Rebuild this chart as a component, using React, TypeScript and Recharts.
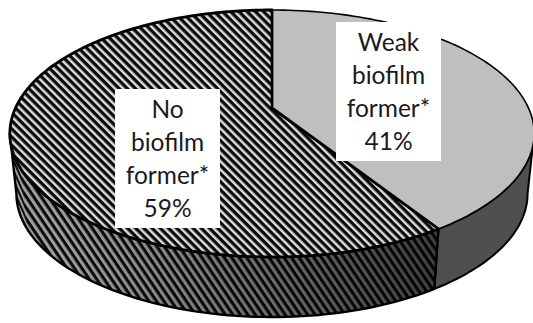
import React from "react";
import { PieChart, Pie } from "recharts";

const categories = ["Weak biofilm former*", "No biofilm former*"];
const shares = [41, 59];
const labelLines = [
  ["Weak", "biofilm", "former*", "41%"],
  ["No", "biofilm", "former*", "59%"],
];

const rows = categories.map((name, i) => ({ name, value: shares[i], lines: labelLines[i] }));

// Perspective of the disc: k foreshortens the far side, squash flattens the circle.
const K = 0.2065;
const SQUASH = 0.461;
const WALL_DROP = 60;
const WALL_TAPER = 0.975;
const SILHOUETTE = (Math.asin(K) * 180) / Math.PI;

// Hatching on the rim tightens and steepens at the far left end of the disc.
const rimBands = [
  { id: "rimA", upTo: -152, period: 4, tilt: -24 },
  { id: "rimB", upTo: -57, period: 6.2, tilt: -34 },
];

type Pt = [number, number];

const project = (deg: number, cx: number, cy: number, r: number): Pt => {
  const rad = (deg * Math.PI) / 180;
  const u = Math.cos(rad);
  const v = -Math.sin(rad);
  const d = 1 - K * v;
  return [cx + (r * u) / d, cy + (r * SQUASH * v) / d];
};

const sweep = (from: number, to: number): number[] => {
  const n = Math.max(2, Math.ceil(Math.abs(to - from) / 1.5));
  return Array.from({ length: n + 1 }, (_, i) => from + ((to - from) * i) / n);
};

const toPath = (pts: Pt[]) => pts.map((p, i) => `${i ? "L" : "M"}${p[0].toFixed(2)} ${p[1].toFixed(2)}`).join(" ");

const rimPath = (from: number, to: number, cx: number, cy: number, r: number) => {
  const upper = sweep(from, to).map((a) => project(a, cx, cy, r));
  const lower = upper.map(([x, y]): Pt => [cx + (x - cx) * WALL_TAPER, y + WALL_DROP]).reverse();
  return toPath([...upper, ...lower]) + " Z";
};

// Each slice draws its rim first, then its top face.
const DiscSlice = (props: any) => {
  const { cx, cy, outerRadius: r, startAngle, endAngle, index } = props;
  const isWeak = index === 0;
  const visFrom = Math.min(startAngle, -SILHOUETTE);
  const visTo = Math.max(endAngle, -180 + SILHOUETTE);
  const topEdge = sweep(startAngle, endAngle).map((a) => project(a, cx, cy, r));
  const face = toPath([[cx, cy], ...topEdge]) + " Z";
  const rim = rimPath(visFrom, visTo, cx, cy, r);
  const bandStops = [visTo, ...rimBands.map((b) => b.upTo)];
  return (
    <g>
      <path d={rim} fill={isWeak ? "#4f4f4f" : "#0a0a0a"} />
      {!isWeak &&
        rimBands.map((band, i) => (
          <path
            key={band.id}
            d={rimPath(Math.min(bandStops[i + 1], visFrom), bandStops[i] - (i ? 0.6 : 0), cx, cy, r)}
            fill={`url(#${band.id})`}
          />
        ))}
      {!isWeak && <path d={rim} fill="url(#rimShade)" stroke="none" />}
      <path d={rim} fill="none" stroke="#000" strokeWidth={isWeak ? 2 : 2.4} strokeLinejoin="round" />
      <path
        d={face}
        fill={isWeak ? "#bfbfbf" : "url(#faceStripes)"}
        stroke="#000"
        strokeWidth={isWeak ? 1.6 : 2.8}
        strokeLinejoin="round"
      />
    </g>
  );
};

const BOX_W = 105;
const BOX_H = 139;
const LINE_GAP = 33;
const boxCorners: Pt[] = [
  [336, 22],
  [115, 89],
];

const SliceLabel = (props: any) => {
  const [bx, by] = boxCorners[props.index];
  const lines: string[] = props.payload.lines;
  return (
    <g>
      <rect x={bx} y={by} width={BOX_W} height={BOX_H} fill="#fff" />
      {lines.map((line, i) => (
        <text
          key={line}
          x={bx + BOX_W / 2}
          y={by + 29 + i * LINE_GAP}
          textAnchor="middle"
          fontFamily="Lato, sans-serif"
          fontSize={24.5}
          fill="#1a1a1a"
        >
          {line}
        </text>
      ))}
    </g>
  );
};

export default function App() {
  return (
    <div style={{ position: "absolute", left: 0, top: 0, width: 533, height: 323, overflow: "hidden", background: "#fff" }}>
      <PieChart width={533} height={323} margin={{ top: 0, right: 0, bottom: 0, left: 0 }}>
        <defs>
          <pattern id="faceStripes" patternUnits="userSpaceOnUse" width={5.8} height={5.8} patternTransform="rotate(-45)">
            <rect width={5.8} height={5.8} fill="#0a0a0a" />
            <rect width={2.5} height={5.8} fill="#dcdcdc" />
          </pattern>
          {rimBands.map((band) => (
            <pattern
              key={band.id}
              id={band.id}
              patternUnits="userSpaceOnUse"
              width={band.period}
              height={band.period}
              patternTransform={`rotate(${band.tilt})`}
            >
              <rect width={band.period} height={band.period} fill="#0a0a0a" />
              <rect width={band.period / 2} height={band.period} fill="#a0a0a0" />
            </pattern>
          ))}
          <linearGradient id="rimShade" gradientUnits="userSpaceOnUse" x1={60} y1={0} x2={430} y2={0}>
            <stop offset="0" stopColor="#000" stopOpacity={0} />
            <stop offset="0.5" stopColor="#000" stopOpacity={0.28} />
            <stop offset="1" stopColor="#000" stopOpacity={0.6} />
          </linearGradient>
        </defs>
        <Pie
          data={rows}
          dataKey="value"
          nameKey="name"
          cx={272}
          cy={108}
          innerRadius={0}
          outerRadius={256.5}
          startAngle={90}
          endAngle={-270}
          shape={DiscSlice}
          label={SliceLabel}
          labelLine={false}
          isAnimationActive={false}
        />
      </PieChart>
    </div>
  );
}
